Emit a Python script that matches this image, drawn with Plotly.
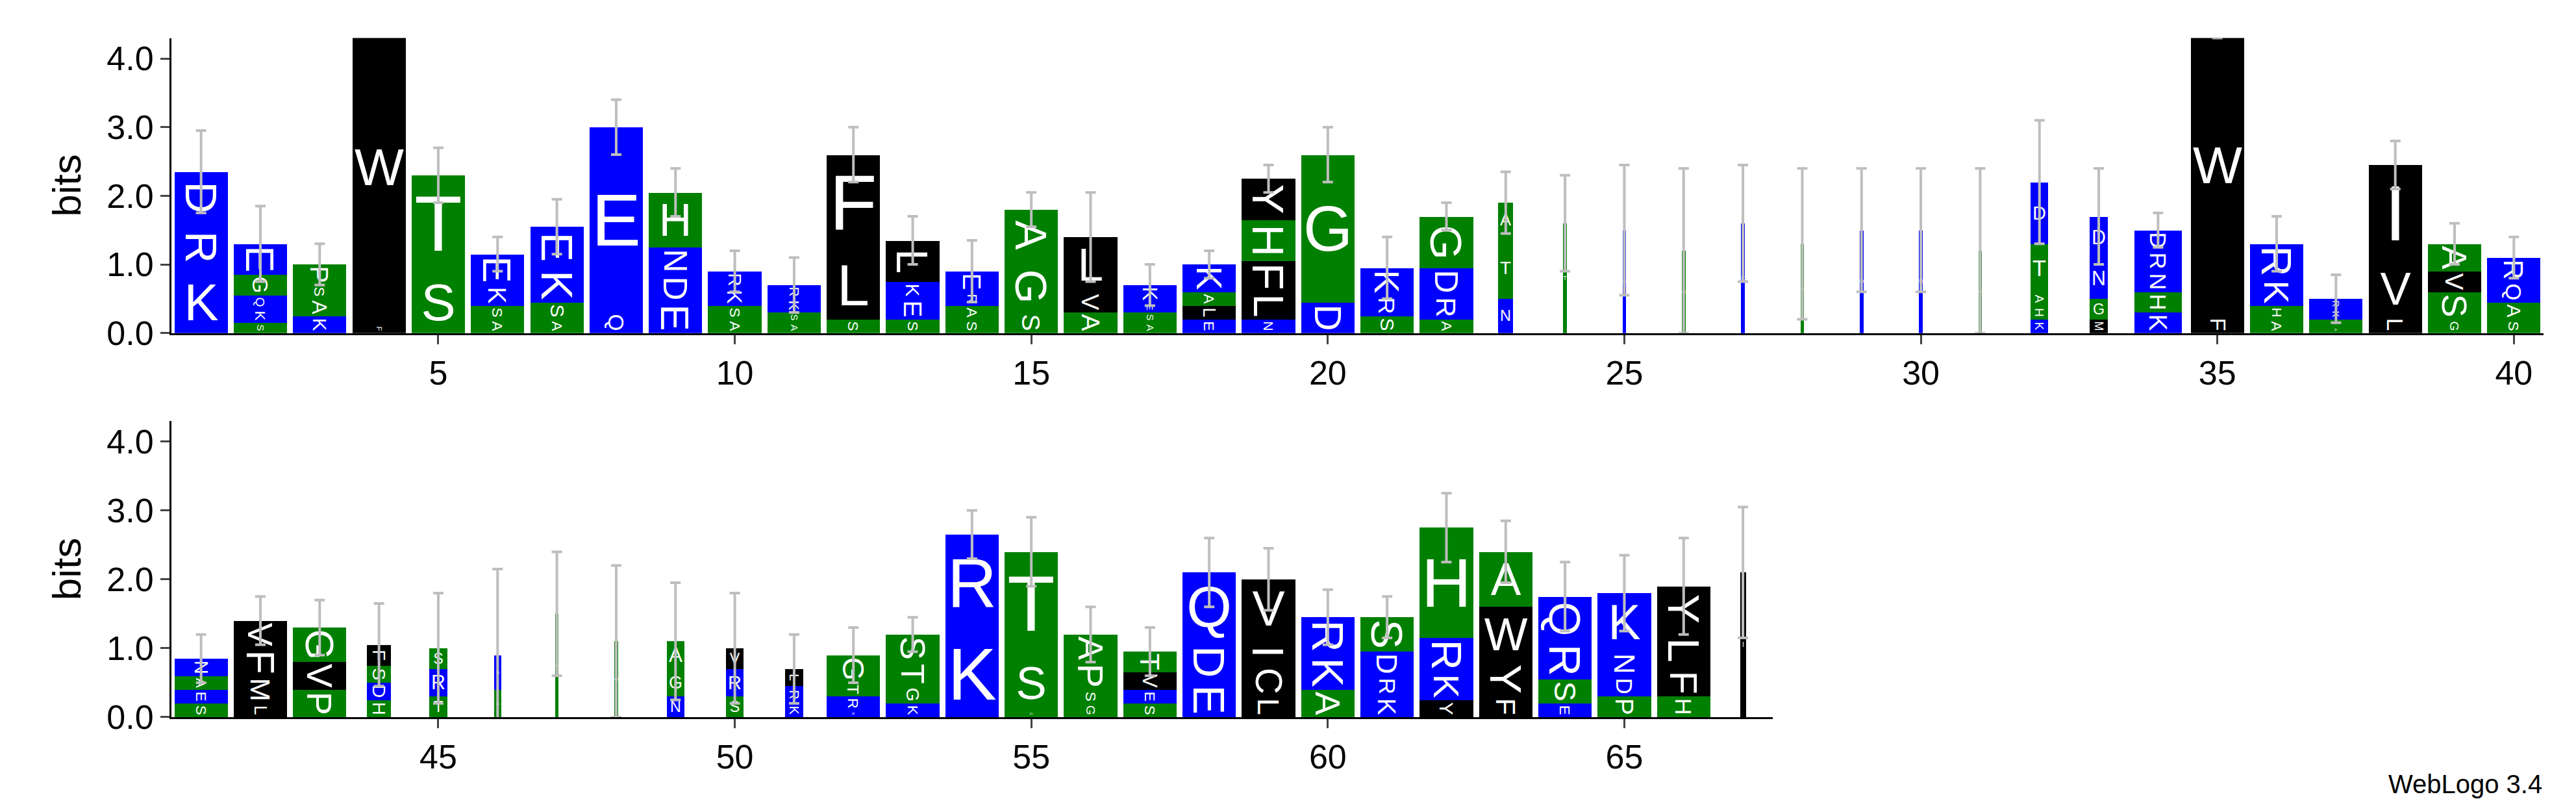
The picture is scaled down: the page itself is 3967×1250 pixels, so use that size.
import plotly.graph_objs as go

# Sequence logo data: per position, letters bottom-to-top with heights (bits)
positions = list(range(1, 68))
letters = [
    "KRD", "SKQGE", "KASP", "FW", "ST", "ASKE", "ASKE", "QE", "EDNH", "ASKR",
    "ASKR", "SLF", "SEKL", "SARE", "SGA", "AVL", "ASEK", "ELAK", "NLFHY", "DG",
    "SRK", "ARDG", "NTA", "T", "D", "G", "E", "S", "D", "N",
    "G", "KHATD", "MGND", "KHNRD", "FW", "AHKR", "ASKR", "LVI", "GSVA", "SAQR",
    "SEAN", "LMFV", "PVG", "HDSF", "TRS", "AD", "G", "G", "NGA", "SRV",
    "KRL", "KRTG", "KGTS", "KR", "GST", "GSPA", "SEVT", "EDQ", "LCIV", "AKR",
    "KRDS", "YKRH", "FYWA", "ESRQ", "PDNK", "HFLY", "I",
]
heights = [
    [0.9, 0.7, 0.75], [0.15, 0.2, 0.2, 0.3, 0.45], [0.25, 0.25, 0.2, 0.3], [0.12, 4.6],
    [0.9, 1.4], [0.2, 0.2, 0.3, 0.45], [0.2, 0.25, 0.5, 0.6], [0.3, 2.7],
    [0.45, 0.4, 0.4, 0.8], [0.2, 0.2, 0.25, 0.25], [0.15, 0.15, 0.2, 0.2], [0.2, 1.0, 1.4],
    [0.2, 0.3, 0.25, 0.6], [0.2, 0.2, 0.2, 0.3], [0.3, 0.75, 0.75], [0.3, 0.3, 0.8],
    [0.15, 0.15, 0.15, 0.25], [0.2, 0.2, 0.2, 0.4], [0.2, 0.4, 0.45, 0.6, 0.6], [0.45, 2.15],
    [0.25, 0.3, 0.4], [0.2, 0.35, 0.4, 0.75], [0.5, 0.9, 0.5], [1.6],
    [1.5], [1.2], [1.6], [1.3], [1.5], [1.5],
    [1.2], [0.2, 0.2, 0.2, 0.7, 0.9], [0.2, 0.3, 0.6, 0.6], [0.3, 0.3, 0.3, 0.3, 0.3], [0.25, 4.4],
    [0.2, 0.2, 0.4, 0.5], [0.1, 0.1, 0.15, 0.15], [0.25, 0.8, 1.4], [0.2, 0.4, 0.3, 0.4],
    [0.2, 0.25, 0.3, 0.35],
    [0.2, 0.2, 0.2, 0.25], [0.2, 0.4, 0.4, 0.4], [0.4, 0.4, 0.5], [0.25, 0.25, 0.25, 0.3],
    [0.3, 0.4, 0.3], [0.4, 0.5], [1.5], [1.1], [0.3, 0.4, 0.4], [0.3, 0.4, 0.3],
    [0.2, 0.25, 0.25], [0.1, 0.2, 0.2, 0.4], [0.2, 0.25, 0.35, 0.4], [1.25, 1.4],
    [0.1, 0.8, 1.5], [0.2, 0.2, 0.4, 0.4], [0.2, 0.2, 0.25, 0.3], [0.5, 0.6, 1.0],
    [0.3, 0.45, 0.4, 0.85], [0.4, 0.5, 0.55], [0.3, 0.3, 0.35, 0.5], [0.25, 0.4, 0.5, 1.6],
    [0.3, 0.5, 0.8, 0.8], [0.2, 0.35, 0.55, 0.65], [0.3, 0.3, 0.35, 0.85], [0.3, 0.4, 0.55, 0.65],
    [2.1],
]
widths = [
    0.9, 0.9, 0.9, 0.9, 0.9, 0.9, 0.9, 0.9, 0.9, 0.9,
    0.9, 0.9, 0.9, 0.9, 0.9, 0.9, 0.9, 0.9, 0.9, 0.9,
    0.9, 0.9, 0.25, 0.06, 0.06, 0.06, 0.06, 0.06, 0.06, 0.06,
    0.06, 0.3, 0.3, 0.8, 0.9, 0.9, 0.9, 0.9, 0.9, 0.9,
    0.9, 0.9, 0.9, 0.4, 0.3, 0.12, 0.06, 0.06, 0.3, 0.3,
    0.3, 0.9, 0.9, 0.9, 0.9, 0.9, 0.9, 0.9, 0.9, 0.9,
    0.9, 0.9, 0.9, 0.9, 0.9, 0.9, 0.1,
]
err_top = [
    2.95, 1.85, 1.3, 5.0, 2.7, 1.4, 1.95, 3.4, 2.4, 1.2,
    1.1, 3.0, 1.7, 1.35, 2.05, 2.05, 1.0, 1.2, 2.45, 3.0,
    1.4, 1.9, 2.35, 2.3, 2.45, 2.4, 2.45, 2.4, 2.4, 2.4,
    2.4, 3.1, 2.4, 1.75, 5.0, 1.7, 0.85, 2.8, 1.6, 1.4,
    1.2, 1.75, 1.7, 1.65, 1.8, 2.15, 2.4, 2.2, 1.95, 1.8,
    1.2, 1.3, 1.45, 3.0, 2.9, 1.6, 1.3, 2.6, 2.45, 1.85,
    1.75, 3.25, 2.85, 2.25, 2.35, 2.6, 3.05,
]

blue = set("DEKRNQ")
green = set("GSTAHP")


def colour(c):
    if c in blue:
        return "rgb(0,0,255)"
    if c in green:
        return "rgb(0,128,0)"
    return "rgb(0,0,0)"


fig = go.Figure()
for panel, (lo, hi) in enumerate([(1, 40), (41, 67)]):
    xs, bases, ys, cols, txt, ws = [], [], [], [], [], []
    ex, ey, ee = [], [], []
    for i, p in enumerate(positions):
        if p < lo or p > hi:
            continue
        b = 0.0
        for c, h in zip(letters[i], heights[i]):
            xs.append(p); bases.append(b); ys.append(h)
            cols.append(colour(c)); txt.append(c); ws.append(widths[i])
            b += h
        ex.append(p); ey.append(b); ee.append(max(err_top[i] - b, 0))
    xa = "x" if panel == 0 else "x2"
    ya = "y" if panel == 0 else "y2"
    fig.add_trace(go.Bar(x=xs, y=ys, base=bases, width=ws, text=txt,
                         marker=dict(color=cols, line=dict(width=0)),
                         textposition="inside", insidetextanchor="middle",
                         textfont=dict(color="white", size=120, family="Liberation Sans"),
                         xaxis=xa, yaxis=ya, showlegend=False, hoverinfo="skip"))
    fig.add_trace(go.Scatter(x=ex, y=ey, mode="markers", marker=dict(size=1, color="rgba(0,0,0,0)"),
                             error_y=dict(type="data", array=ee, color="rgb(190,190,190)",
                                          thickness=4, width=8),
                             xaxis=xa, yaxis=ya, showlegend=False, hoverinfo="skip"))

axis_common = dict(showgrid=False, zeroline=False, showline=True, linecolor="black",
                   linewidth=3, ticks="outside", ticklen=14, tickwidth=3,
                   tickfont=dict(size=52))
yax = dict(axis_common, range=[0, 4.3], tickvals=[0, 1, 2, 3, 4], tickformat=".1f",
           title=dict(text="bits", font=dict(size=62), standoff=20))

fig.update_layout(
    width=3967, height=1250,
    margin=dict(l=256, r=58, t=40, b=154),
    plot_bgcolor="white", paper_bgcolor="white",
    font=dict(family="Liberation Sans", color="black"),
    barmode="overlay", bargap=0,
    xaxis=dict(axis_common, range=[0.5, 40.5], tickvals=[5, 10, 15, 20, 25, 30, 35, 40],
               domain=[0, 1], anchor="y"),
    yaxis=dict(yax, domain=[0.56, 0.99], anchor="x"),
    xaxis2=dict(axis_common, range=[40.5, 67.5], tickvals=[45, 50, 55, 60, 65],
                domain=[0, 0.675], anchor="y2"),
    yaxis2=dict(yax, domain=[0, 0.432], anchor="x2"),
    annotations=[dict(text="WebLogo 3.4", xref="paper", yref="paper", x=1.0, y=-0.075,
                      xanchor="right", yanchor="top", showarrow=False, font=dict(size=40))],
)

fig.write_html("out.html")
